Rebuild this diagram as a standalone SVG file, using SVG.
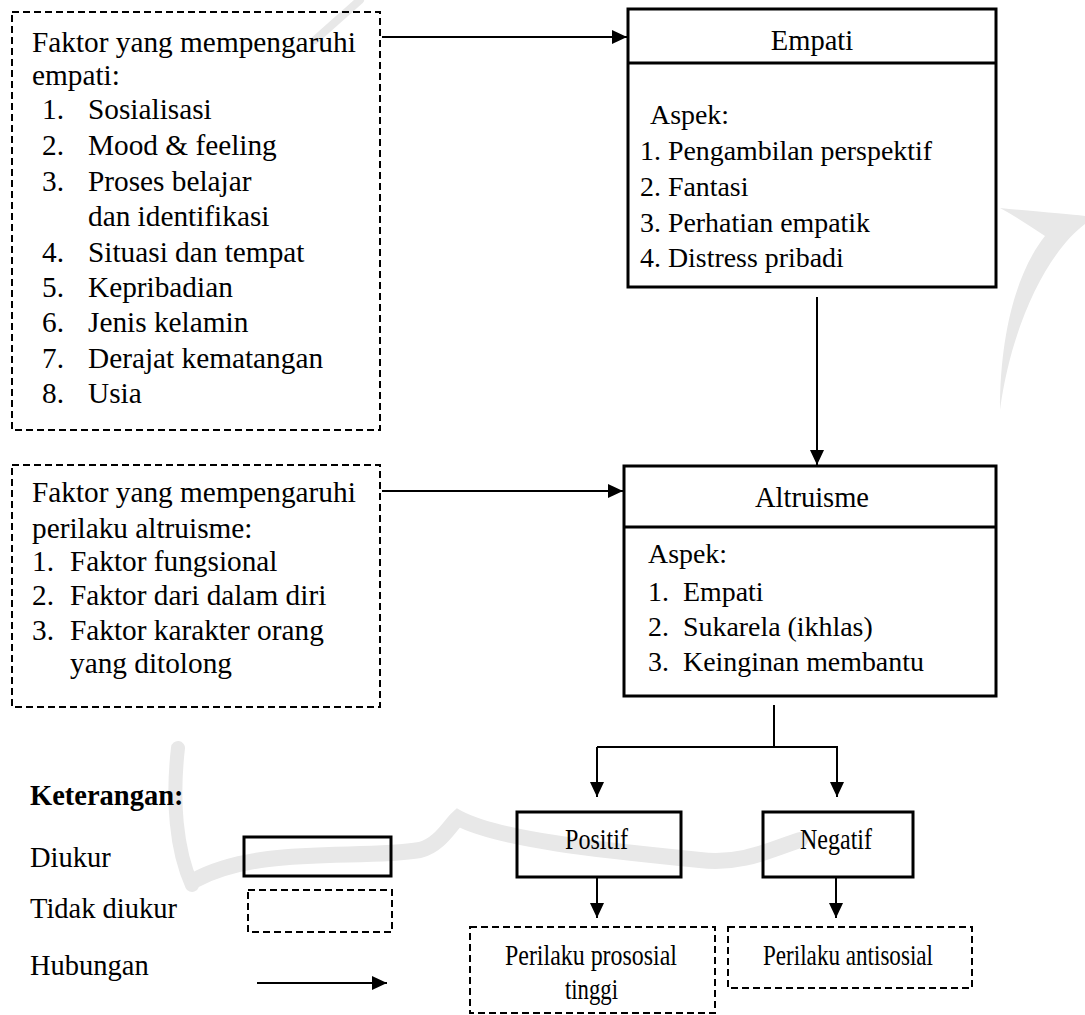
<svg xmlns="http://www.w3.org/2000/svg" width="1085" height="1015" viewBox="0 0 1085 1015">
<style>
text{font-family:'Liberation Serif','Times New Roman',serif;font-size:28.5px;fill:#000}
.l{font-size:29.3px}
.s{font-size:27.9px}
.c{font-size:30px}
.b{font-weight:bold}
.m{text-anchor:middle}
.solid{fill:none;stroke:#000;stroke-width:3}
.dash{fill:none;stroke:#000;stroke-width:2;stroke-dasharray:7 4}
.con{fill:none;stroke:#000;stroke-width:2}
.wm{fill:none;stroke:#e8e8e8;stroke-linecap:round}
</style>
<defs>
<marker id="ah" markerUnits="userSpaceOnUse" markerWidth="16" markerHeight="16" refX="15" refY="7" orient="auto">
<path d="M0,0 L15,7 L0,14 Z" fill="#000"/>
</marker>
</defs>
<rect width="1085" height="1015" fill="#fff"/>
<g id="watermark">
<path fill="#e8e8e8" d="M1000,208 C1040,212 1070,214 1085,216 L1085,224 C1050,250 1012,320 1000,410 C1000,330 1018,270 1045,236 C1030,226 1015,216 1000,208 Z"/>
<path class="wm" stroke-width="14" d="M178,748 C172,800 176,850 192,885"/>
<path class="wm" stroke-width="16" d="M195,880 C260,845 360,860 420,850 C440,845 450,825 458,818 C500,840 600,850 700,860 C740,865 770,850 800,840"/>
<path class="wm" stroke-width="8" stroke="#f0f0f0" d="M360,0 L315,40"/>
</g>
<g id="n-faktor-empati">
<rect class="dash" x="12" y="12" width="368" height="418"/>
<text class="l" x="32" y="52">Faktor yang mempengaruhi</text>
<text class="l" x="32" y="85">empati:</text>
<text class="l" x="42" y="119">1.</text><text class="l" x="88" y="119">Sosialisasi</text>
<text class="l" x="42" y="155">2.</text><text class="l" x="88" y="155">Mood &amp; feeling</text>
<text class="l" x="42" y="191">3.</text><text class="l" x="88" y="191">Proses belajar</text>
<text class="l" x="88" y="226">dan identifikasi</text>
<text class="l" x="42" y="262">4.</text><text class="l" x="88" y="262">Situasi dan tempat</text>
<text class="l" x="42" y="297">5.</text><text class="l" x="88" y="297">Kepribadian</text>
<text class="l" x="42" y="332">6.</text><text class="l" x="88" y="332">Jenis kelamin</text>
<text class="l" x="42" y="368">7.</text><text class="l" x="88" y="368">Derajat kematangan</text>
<text class="l" x="42" y="403">8.</text><text class="l" x="88" y="403">Usia</text>
</g>
<g id="n-empati">
<rect class="solid" x="628" y="9" width="368" height="278"/>
<line class="solid" x1="628" y1="63" x2="996" y2="63"/>
<text class="m" x="812" y="50">Empati</text>
<text class="s" x="650" y="124">Aspek:</text>
<text class="s" x="640" y="160">1. Pengambilan perspektif</text>
<text class="s" x="640" y="196">2. Fantasi</text>
<text class="s" x="640" y="232">3. Perhatian empatik</text>
<text class="s" x="640" y="267">4. Distress pribadi</text>
</g>
<g id="n-faktor-altruisme">
<rect class="dash" x="12" y="465" width="368" height="242"/>
<text class="l" x="32" y="502">Faktor yang mempengaruhi</text>
<text class="l" x="32" y="538">perilaku altruisme:</text>
<text class="l" x="32" y="571">1.</text><text class="l" x="70" y="571">Faktor fungsional</text>
<text class="l" x="32" y="605">2.</text><text class="l" x="70" y="605">Faktor dari dalam diri</text>
<text class="l" x="32" y="640">3.</text><text class="l" x="70" y="640">Faktor karakter orang</text>
<text class="l" x="70" y="673">yang ditolong</text>
</g>
<g id="n-altruisme">
<rect class="solid" x="624" y="466" width="372" height="230"/>
<line class="solid" x1="624" y1="527" x2="996" y2="527"/>
<text class="m" x="812" y="507">Altruisme</text>
<text class="s" x="648" y="563">Aspek:</text>
<text class="s" x="648" y="601">1.</text><text class="s" x="683" y="601">Empati</text>
<text class="s" x="648" y="636">2.</text><text class="s" x="683" y="636">Sukarela (ikhlas)</text>
<text class="s" x="648" y="671">3.</text><text class="s" x="683" y="671">Keinginan membantu</text>
</g>
<g id="n-positif">
<rect class="solid" x="517" y="812" width="164" height="65" stroke-width="2.5"/>
<text class="c" x="565" y="849" textLength="63" lengthAdjust="spacingAndGlyphs">Positif</text>
</g>
<g id="n-negatif">
<rect class="solid" x="763" y="812" width="150" height="65" stroke-width="2.5"/>
<text class="c" x="800" y="849" textLength="72" lengthAdjust="spacingAndGlyphs">Negatif</text>
</g>
<g id="n-prososial">
<rect class="dash" x="470" y="927" width="245" height="86"/>
<text class="c" x="505" y="965" textLength="172" lengthAdjust="spacingAndGlyphs">Perilaku prososial</text>
<text class="c" x="565" y="999" textLength="53" lengthAdjust="spacingAndGlyphs">tinggi</text>
</g>
<g id="n-antisosial">
<rect class="dash" x="728" y="927" width="244" height="61"/>
<text class="c" x="763" y="965" textLength="170" lengthAdjust="spacingAndGlyphs">Perilaku antisosial</text>
</g>
<g id="legend">
<text class="b" x="30" y="805">Keterangan:</text>
<text x="30" y="867">Diukur</text>
<text x="30" y="918">Tidak diukur</text>
<text x="30" y="975">Hubungan</text>
<rect class="solid" x="244" y="837" width="147" height="39"/>
<rect class="dash" x="248" y="890" width="144" height="42"/>
<line class="con" x1="257" y1="983" x2="387" y2="983" marker-end="url(#ah)"/>
</g>
<g id="connectors">
<line class="con" x1="382" y1="37" x2="627" y2="37" marker-end="url(#ah)"/>
<line class="con" x1="817" y1="297" x2="817" y2="465" marker-end="url(#ah)"/>
<line class="con" x1="382" y1="491" x2="623" y2="491" marker-end="url(#ah)"/>
<polyline class="con" points="774,705 774,747"/>
<polyline class="con" points="597,747 837,747 837,797" marker-end="url(#ah)"/>
<line class="con" x1="597" y1="747" x2="597" y2="797" marker-end="url(#ah)"/>
<line class="con" x1="597" y1="877" x2="597" y2="918" marker-end="url(#ah)"/>
<line class="con" x1="836" y1="877" x2="836" y2="918" marker-end="url(#ah)"/>
</g>
</svg>
